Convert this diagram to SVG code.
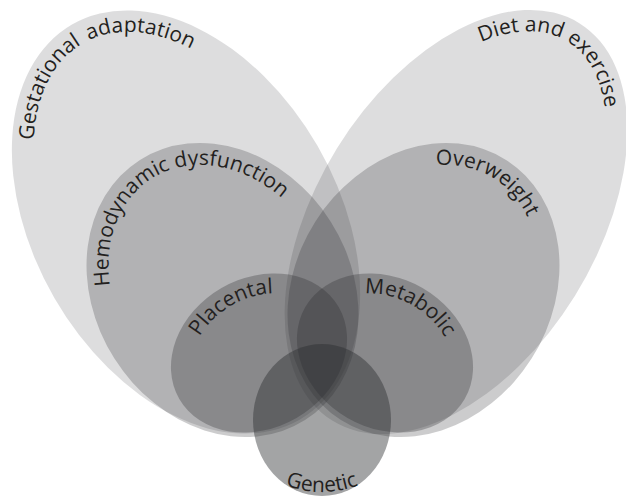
<svg xmlns="http://www.w3.org/2000/svg" width="626" height="498" viewBox="0 0 626 498">
<style>
.s{fill:#2a2b2f}
.o1{fill-opacity:0.16}
.o2{fill-opacity:0.24}
.o3{fill-opacity:0.30}
.o4{fill-opacity:0.43}
.t{font-family:"Open Sans","Liberation Sans",sans-serif;font-size:21px;fill:#231f20}
</style>
<defs>
<path id="pg" d="M -146.9 91.2 A 206 130 0 0 1 103 -112.6"/>
<path id="pd" d="M 166 -73.5 A 212 118 0 0 1 106 102.2"/>
<path id="ph" d="M -64 92.7 A 132 106 0 0 1 0 -106"/>
<path id="po" d="M 111.9 -56.2 A 132 106 0 0 1 66 91.8"/>
<path id="pp" d="M -43.3 -43.9 A 72 55 0 0 1 67.7 18.8"/>
<path id="pm" d="M -47.2 -41.5 A 72 55 0 0 1 67.7 18.8"/>
<path id="pgen" d="M 252 463.4 A 100 100 0 0 0 392 463.4"/>
</defs>
<rect width="626" height="498" fill="#ffffff"/>
<g id="gestational-adaptation">
<ellipse class="s o1" cx="186" cy="222" rx="228" ry="152" transform="rotate(60 186 222)"/>
<g transform="translate(186 222) rotate(60)"><text class="t" font-size="20.5" word-spacing="3"><textPath href="#pg">Gestational adaptation</textPath></text></g>
</g>
<g id="diet-and-exercise">
<ellipse class="s o1" cx="456" cy="222" rx="234" ry="140" transform="rotate(-58.2 456 222)"/>
<g transform="translate(456 222) rotate(-58.2)"><text class="t"><textPath href="#pd">Diet and exercise</textPath></text></g>
</g>
<g id="hemodynamic-dysfunction">
<ellipse class="s o2" cx="222.5" cy="290" rx="154" ry="128" transform="rotate(57.6 222.5 290)"/>
<g transform="translate(222.5 290) rotate(57.6)"><text class="t"><textPath href="#ph">Hemodynamic dysfunction</textPath></text></g>
</g>
<g id="overweight">
<ellipse class="s o2" cx="423.5" cy="290" rx="154" ry="128" transform="rotate(-57.6 423.5 290)"/>
<g transform="translate(423.5 290) rotate(-57.6)"><text class="t"><textPath href="#po">Overweight</textPath></text></g>
</g>
<g id="placental">
<ellipse class="s o3" cx="259" cy="353" rx="92" ry="75" transform="rotate(-30 259 353)"/>
<g transform="translate(259 353) rotate(-30)"><text class="t"><textPath href="#pp">Placental</textPath></text></g>
</g>
<g id="metabolic">
<ellipse class="s o3" cx="385" cy="353" rx="92" ry="75" transform="rotate(30 385 353)"/>
<g transform="translate(385 353) rotate(30)"><text class="t"><textPath href="#pm">Metabolic</textPath></text></g>
</g>
<g id="genetic">
<ellipse class="s o4" cx="322" cy="420" rx="69" ry="76"/>
<text class="t" text-anchor="middle"><textPath href="#pgen" startOffset="50%">Genetic</textPath></text>
</g>
<g id="connectors"></g>
</svg>
